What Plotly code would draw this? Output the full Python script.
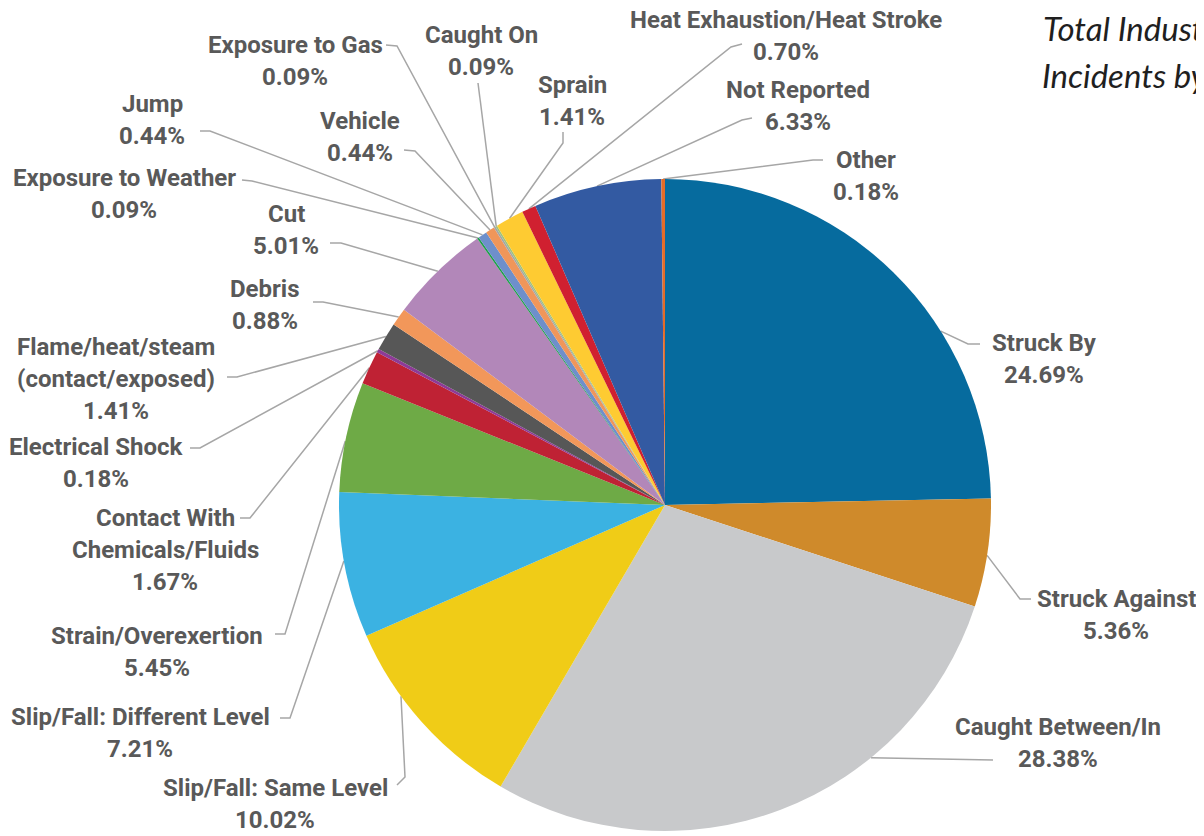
import math
import plotly.graph_objects as go

# incident types, clockwise from 12 o'clock
categories = [
    "Struck By", "Struck Against", "Caught Between/In", "Slip/Fall: Same Level",
    "Slip/Fall: Different Level", "Strain/Overexertion", "Contact With Chemicals/Fluids",
    "Electrical Shock", "Flame/heat/steam (contact/exposed)", "Debris", "Cut",
    "Exposure to Weather", "Jump", "Vehicle", "Exposure to Gas", "Caught On", "Sprain",
    "Heat Exhaustion/Heat Stroke", "Not Reported", "Other",
]
percents = [
    24.69, 5.36, 28.38, 10.02, 7.21, 5.45, 1.67, 0.18, 1.41, 0.88, 5.01,
    0.09, 0.44, 0.44, 0.09, 0.09, 1.41, 0.70, 6.33, 0.18,
]
colors = [
    "#066b9e", "#cf8a2b", "#c8c9cb", "#f0cc17", "#3bb2e2", "#6eaa46", "#bf2234",
    "#8e3a97", "#575757", "#f2975a", "#b287b9", "#1e9e48", "#6e8fcb", "#f0965a",
    "#a5a5a5", "#9fc27c", "#fecb32", "#d02030", "#335aa2", "#e46c28",
]

# label layout (screen pixels): text centre, leader elbow, leader end, anchor fraction in slice
label_pos = [
    (1044, 359), (1116, 615), (1058, 743), (275, 804), (140, 733), (157, 652),
    (165, 550), (96, 463), (116, 379), (265, 305), (286, 230), (124, 194),
    (152, 120), (360, 137), (295, 61), (481, 51), (572, 101), (786, 36),
    (798, 106), (866, 176),
]
elbows = [
    (968, 344), (1020, 599), (993, 760), (405, 777), (290, 718), (285, 634),
    (250, 518), (200, 448), (237, 377), (323, 302), (341, 243), (252, 181),
    (210, 131), (415, 151), (397, 46), (480, 100), (563, 143), (731, 47),
    (742, 120), (813, 160),
]
ends = [
    (980, 344), (1031, 599), (993, 760), (397, 785), (280, 718), (275, 634),
    (240, 518), (190, 448), (227, 377), (313, 302), (330, 243), (242, 180),
    (200, 131), (404, 150), (386, 45), (478, 83), (563, 132), (742, 44),
    (752, 118), (823, 160),
]
anchor_frac = [0.65, 0.52, 0.32, 0.66, 0.53, 0.46] + [0.5] * 14

OFF = 8                      # page body margin
W, H = 1204 - OFF, 836 - OFF
CX, CY, R = 665, 505, 326    # screen pixels
LINE_H = 32

display = [c.replace("Flame/heat/steam ", "Flame/heat/steam|")
            .replace("Contact With ", "Contact With|") for c in categories]

fig = go.Figure()

fig.add_trace(go.Pie(
    labels=categories, values=percents, sort=False, direction="clockwise",
    rotation=0, marker=dict(colors=colors, line=dict(width=0)),
    textinfo="none", showlegend=False,
    domain=dict(x=[(CX - OFF - R) / W, (CX - OFF + R) / W],
                y=[(H - (CY - OFF) - R) / H, (H - (CY - OFF) + R) / H]),
))

# leader lines
total = sum(percents)
lx, ly = [], []
cum = 0.0
for i, p in enumerate(percents):
    ang = (cum + p * anchor_frac[i]) / total * 2 * math.pi
    cum += p
    sx = CX + R * math.sin(ang)
    sy = CY - R * math.cos(ang)
    lx += [sx, elbows[i][0], ends[i][0], None]
    ly += [sy, elbows[i][1], ends[i][1], None]

fig.add_trace(go.Scatter(x=lx, y=ly, mode="lines", hoverinfo="skip", showlegend=False,
                         line=dict(color="#a6a6a6", width=1.5)))

label_font = dict(family="Roboto, Liberation Sans, sans-serif", size=24, color="#595959")
for i, c in enumerate(display):
    lines = c.split("|") + [f"{percents[i]:.2f}%"]
    n = len(lines)
    for j, t in enumerate(lines):
        fig.add_annotation(x=label_pos[i][0], y=label_pos[i][1] + (j - (n - 1) / 2) * LINE_H,
                           xref="x", yref="y", text=f"<b>{t}</b>", showarrow=False,
                           xanchor="center", yanchor="middle", font=label_font)

title_font = dict(family="Lato, Open Sans, sans-serif", size=33, color="#1f1f1f")
fig.add_annotation(x=1041, y=28, xref="x", yref="y", text="<i>Total Industry</i>",
                   showarrow=False, xanchor="left", yanchor="middle", font=title_font)
fig.add_annotation(x=1040, y=75, xref="x", yref="y", text="<i>Incidents by Type</i>",
                   showarrow=False, xanchor="left", yanchor="middle", font=title_font)

fig.update_layout(
    width=W, height=H,
    margin=dict(l=0, r=0, t=0, b=0),
    paper_bgcolor="white", plot_bgcolor="white",
    xaxis=dict(range=[OFF, OFF + W], visible=False, fixedrange=True),
    yaxis=dict(range=[OFF + H, OFF], visible=False, fixedrange=True),
)

fig.write_html("out.html")
